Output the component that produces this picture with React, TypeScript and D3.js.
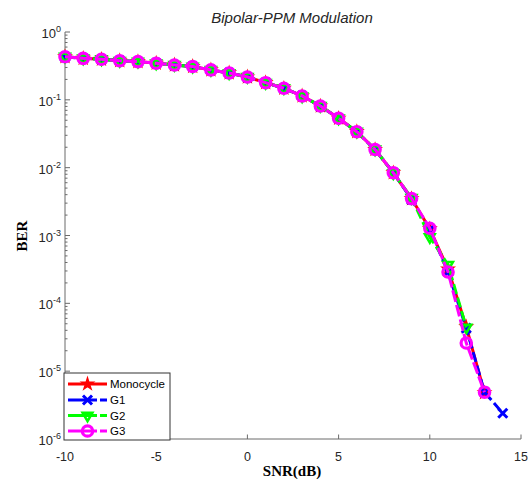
import React from "react";
import * as d3 from "d3";

const snrMono = [-10,-9,-8,-7,-6,-5,-4,-3,-2,-1,0,1,2,3,4,5,6,7,8,9,10,11,12,13];
const berMono = [0.432,0.409,0.396,0.377,0.366,0.346,0.326,0.310,0.276,0.249,0.217,0.179,0.148,0.114,0.081,0.0534,0.0339,0.0185,0.0084,0.0035,0.00125,0.00032,0.000045,0.0000048];
const snrG1 = [-10,-9,-8,-7,-6,-5,-4,-3,-2,-1,0,1,2,3,4,5,6,7,8,9,10,11,12,13,14];
const berG1 = [0.430,0.410,0.395,0.378,0.365,0.347,0.325,0.311,0.275,0.250,0.216,0.180,0.147,0.115,0.0805,0.0535,0.0338,0.0184,0.0085,0.0034,0.00122,0.00029,0.000043,0.0000049,0.0000024];
const snrG2 = [-10,-9,-8,-7,-6,-5,-4,-3,-2,-1,0,1,2,3,4,5,6,7,8,9,10,11,12];
const berG2 = [0.433,0.408,0.397,0.376,0.367,0.345,0.327,0.309,0.277,0.248,0.218,0.178,0.149,0.113,0.0815,0.0532,0.0341,0.0186,0.0083,0.0036,0.00095,0.00037,0.000044];
const snrG3 = [-10,-9,-8,-7,-6,-5,-4,-3,-2,-1,0,1,2,3,4,5,6,7,8,9,10,11,12,13];
const berG3 = [0.431,0.409,0.396,0.377,0.366,0.346,0.326,0.310,0.276,0.249,0.217,0.179,0.148,0.114,0.081,0.0534,0.0339,0.0185,0.0084,0.0035,0.00128,0.00029,0.000026,0.0000049];

const seriesNames = ["Monocycle", "G1", "G2", "G3"];
const xTicks = [-10, -5, 0, 5, 10, 15];
const yExponents = [0, -1, -2, -3, -4, -5, -6];
const titleText = "Bipolar-PPM Modulation";
const xLabel = "SNR(dB)";
const yLabel = "BER";

const W = 531, H = 481;
const x = d3.scaleLinear().domain([-10, 15]).range([65, 521]);
const y = d3.scaleLog().domain([1e-6, 1]).range([439, 32]);

type Series = {
  name: string; xs: number[]; ys: number[]; color: string; dash?: string;
  marker: "star" | "x" | "tri" | "circle";
};
const series: Series[] = [
  { name: seriesNames[0], xs: snrMono, ys: berMono, color: "#ff0000", marker: "star" },
  { name: seriesNames[1], xs: snrG1, ys: berG1, color: "#0000ff", dash: "10,4", marker: "x" },
  { name: seriesNames[2], xs: snrG2, ys: berG2, color: "#00ff00", dash: "10,4", marker: "tri" },
  { name: seriesNames[3], xs: snrG3, ys: berG3, color: "#ff00ff", dash: "12,3", marker: "circle" },
];

const symStar = d3.symbol().type(d3.symbolStar).size(40)()!;
const symX = d3.symbol().type(d3.symbolX).size(55)()!;
const symTri = d3.symbol().type(d3.symbolTriangle).size(42)()!;
const symCircle = d3.symbol().type(d3.symbolCircle).size(85)()!;

function Marker({ kind, color, cx, cy }: { kind: Series["marker"]; color: string; cx: number; cy: number }) {
  if (kind === "star")
    return <path d={symStar} transform={`translate(${cx},${cy})`} fill={color} stroke={color} strokeWidth={1.5} />;
  if (kind === "x")
    return <path d={symX} transform={`translate(${cx},${cy})`} fill="none" stroke={color} strokeWidth={3} />;
  if (kind === "tri")
    return <path d={symTri} transform={`translate(${cx},${cy}) rotate(180)`} fill="none" stroke={color} strokeWidth={2.5} />;
  return <path d={symCircle} transform={`translate(${cx},${cy})`} fill="none" stroke={color} strokeWidth={3.2} />;
}

export default function App() {
  const line = d3.line<[number, number]>().x(d => x(d[0])).y(d => y(d[1]));
  const axisColor = "#6b6b6b";
  const textColor = "#262626";
  const minor: number[] = [];
  for (let e = -6; e < 0; e++) for (let m = 2; m <= 9; m++) minor.push(m * Math.pow(10, e));
  const legX = 64, legY = 373, legW = 106, legH = 67;
  const legRows = [384, 400, 415.5, 431];

  return (
    <svg width={W} height={H} style={{ position: "absolute", left: 0, top: 0, background: "#fff" }}
      fontFamily="'Liberation Sans', Arial, sans-serif">
      <rect x={0} y={0} width={W} height={H} fill="#fff" />
      <line x1={x(-10)} x2={x(-10)} y1={y(1)} y2={y(1e-6)} stroke={axisColor} strokeWidth={1} />
      <line x1={x(-10)} x2={x(15)} y1={y(1e-6)} y2={y(1e-6)} stroke={axisColor} strokeWidth={1} />
      {yExponents.map(e => (
        <line key={"yt" + e} x1={x(-10)} x2={x(-10) + 5} y1={y(Math.pow(10, e))} y2={y(Math.pow(10, e))} stroke={axisColor} />
      ))}
      {minor.map((v, i) => (
        <line key={"ym" + i} x1={x(-10)} x2={x(-10) + 2.5} y1={y(v)} y2={y(v)} stroke={axisColor} />
      ))}
      {xTicks.map(t => (
        <line key={"xt" + t} x1={x(t)} x2={x(t)} y1={y(1e-6)} y2={y(1e-6) - 4.5} stroke={axisColor} />
      ))}
      {xTicks.map(t => (
        <text key={"xl" + t} x={x(t)} y={461} textAnchor="middle" fontSize={12.5} fill={textColor}>
          {t < 0 ? "-" + Math.abs(t) : String(t)}
        </text>
      ))}
      {yExponents.map(e => (
        <text key={"yl" + e} x={x(-10) - 4} y={y(Math.pow(10, e)) + 6} textAnchor="end" fontSize={13} fill={textColor}>
          10<tspan fontSize={9} dy={-6}>{String(e)}</tspan>
        </text>
      ))}
      {series.map(s => (
        <g key={s.name}>
          <path d={line(s.xs.map((v, i) => [v, s.ys[i]] as [number, number]))!} fill="none" stroke={s.color}
            strokeWidth={3} strokeDasharray={s.dash} />
          {s.xs.map((v, i) => (
            <Marker key={i} kind={s.marker} color={s.color} cx={x(v)} cy={y(s.ys[i])} />
          ))}
        </g>
      ))}
      <rect x={legX} y={legY} width={legW} height={legH} fill="#fff" stroke="#333" strokeWidth={1} />
      {series.map((s, i) => (
        <g key={"leg" + s.name}>
          <line x1={68} x2={107} y1={legRows[i]} y2={legRows[i]} stroke={s.color} strokeWidth={3} strokeDasharray={s.dash ? "29,3,8" : undefined} />
          <Marker kind={s.marker} color={s.color} cx={87.5} cy={legRows[i]} />
          <text x={110} y={legRows[i] + 4} fontSize={11.5} fill="#000">{s.name}</text>
        </g>
      ))}
      <text x={292} y={23} textAnchor="middle" fontSize={15} fontStyle="italic" fill={textColor}>{titleText}</text>
      <text x={292} y={476} textAnchor="middle" fontSize={15} fontWeight="bold" fontFamily="'Liberation Serif', 'Times New Roman', serif" fill="#000">{xLabel}</text>
      <text transform={`translate(27,236) rotate(-90)`} textAnchor="middle" fontSize={15} fontWeight="bold" fontFamily="'Liberation Serif', 'Times New Roman', serif" fill="#000">{yLabel}</text>
    </svg>
  );
}
